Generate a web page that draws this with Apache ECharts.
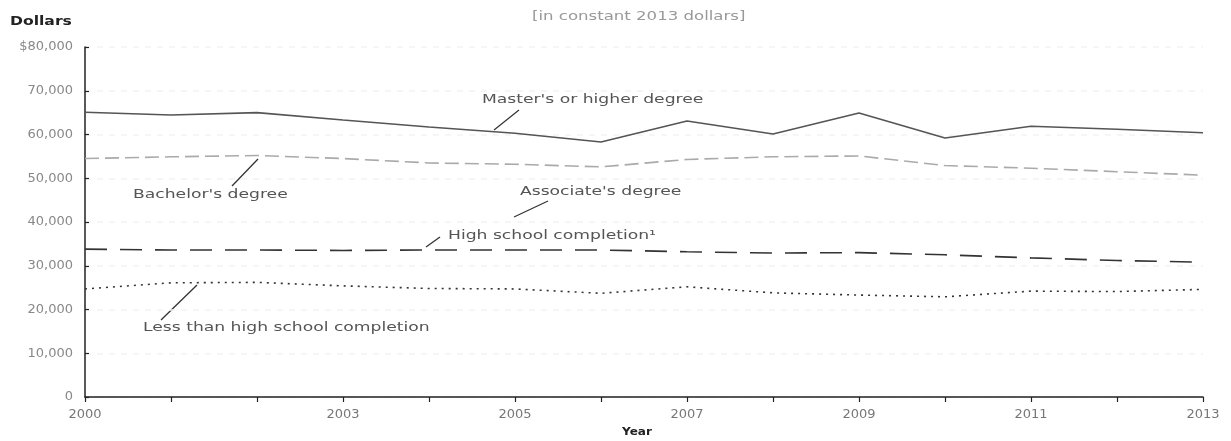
<!DOCTYPE html>
<html>
<head>
<meta charset="utf-8">
<script src="https://cdn.jsdelivr.net/npm/echarts@6/dist/echarts.min.js"></script>
<style>
html,body{margin:0;padding:0;background:#fff;}
#chart{width:1231px;height:441px;}
</style>
</head>
<body>
<div id="chart"></div>
<script>
var years = [2000, 2001, 2002, 2003, 2004, 2005, 2006, 2007, 2008, 2009, 2010, 2011, 2012, 2013];
var labeledYears = [2000, 2003, 2005, 2007, 2009, 2011, 2013];
var masters = [65100, 64450, 65000, 63300, 61700, 60300, 58300, 63100, 60100, 64900, 59200, 61900, 61200, 60400];
var bachelors = [54500, 54900, 55200, 54500, 53500, 53200, 52600, 54300, 54900, 55100, 52900, 52300, 51500, 50700];
var highSchool = [33800, 33600, 33600, 33500, 33600, 33600, 33600, 33200, 32900, 33000, 32500, 31800, 31200, 30800];
var lessThanHS = [24700, 26100, 26200, 25400, 24800, 24700, 23700, 25200, 23800, 23300, 22900, 24200, 24100, 24600];

function pairs(vals) { return years.map(function (y, i) { return [y, vals[i]]; }); }

var FONT = 'DejaVu Sans';
var chart = echarts.init(document.getElementById('chart'), null, {renderer: 'canvas'});

function txt(text, x, y, font, fill, sx) {
  return {type: 'text', x: x, y: y, scaleX: sx || 1.32,
    style: {text: text, font: font, fill: fill, align: 'left', verticalAlign: 'middle'}};
}
function label(text, x, y) {
  return txt(text, x, y, '13px "' + FONT + '"', '#555', 1.32);
}
function pointer(x1, y1, x2, y2) {
  return {type: 'line', shape: {x1: x1, y1: y1, x2: x2, y2: y2},
    style: {stroke: '#333', lineWidth: 1.3}};
}

chart.setOption({
  animation: false,
  backgroundColor: '#fff',
  grid: {left: 85, right: 28, top: 47, bottom: 44},
  xAxis: {
    type: 'value', min: 2000, max: 2013, interval: 1,
    axisLine: {lineStyle: {color: '#222', width: 1.5}},
    axisTick: {show: true, inside: false, length: 5, lineStyle: {color: '#222', width: 1.2}},
    splitLine: {show: false},
    axisLabel: {
      margin: 11, color: '#777', fontFamily: FONT, fontSize: 13,
      formatter: function (v) { return labeledYears.indexOf(v) >= 0 ? String(v) : ''; }
    }
  },
  yAxis: {
    type: 'value', min: 0, max: 80000, interval: 10000,
    axisLine: {show: true, lineStyle: {color: '#222', width: 1.5}},
    axisTick: {show: true, inside: true, length: 4, lineStyle: {color: '#222', width: 1.2}},
    splitLine: {show: true, lineStyle: {color: '#f4f4f4', type: [6, 6], width: 1.5}},
    axisLabel: {
      margin: 12, color: '#888', fontFamily: FONT, fontSize: 13,
      formatter: function (v) {
        var s = v.toLocaleString('en-US');
        return v === 80000 ? '$' + s : s;
      }
    }
  },
  series: [
    {name: "Master's or higher degree", type: 'line', data: pairs(masters), symbol: 'none',
      lineStyle: {color: '#555', width: 1.6, type: 'solid'}},
    {name: "Bachelor's degree", type: 'line', data: pairs(bachelors), symbol: 'none',
      lineStyle: {color: '#aaa', width: 1.6, type: [14, 6]}},
    {name: 'High school completion', type: 'line', data: pairs(highSchool), symbol: 'none',
      lineStyle: {color: '#333', width: 1.6, type: [22, 13]}},
    {name: 'Less than high school completion', type: 'line', data: pairs(lessThanHS), symbol: 'none',
      lineStyle: {color: '#333', width: 1.6, type: [2, 5]}}
  ],
  graphic: [
    txt('Dollars', 10, 22, 'bold 12px "' + FONT + '"', '#222', 1.3),
    txt('[in constant 2013 dollars]', 532, 17, '12px "' + FONT + '"', '#999', 1.38),
    txt('Year', 622, 432, 'bold 11px "' + FONT + '"', '#222', 1.1),
    label("Master's or higher degree", 482, 100),
    pointer(519, 110, 494, 130),
    label("Bachelor's degree", 133, 195),
    pointer(258, 159, 232, 186),
    label("Associate's degree", 520, 192),
    pointer(548, 201, 514, 217),
    label('High school completion\u00B9', 448, 236),
    pointer(440, 237, 426, 247),
    label('Less than high school completion', 143, 328),
    pointer(197, 285, 161, 320)
  ]
});
</script>
</body>
</html>
